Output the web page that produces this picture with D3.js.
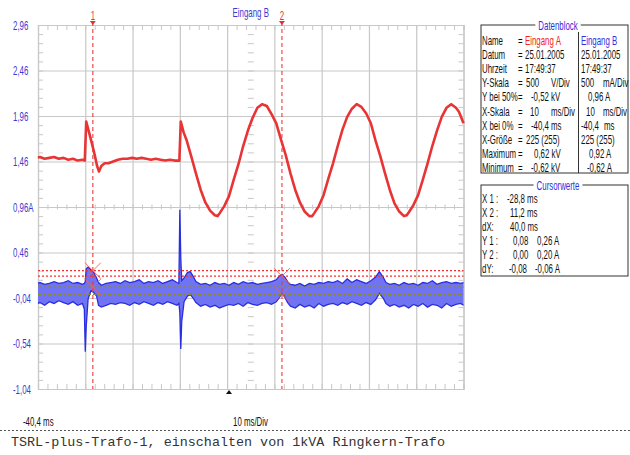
<!DOCTYPE html>
<html>
<head>
<meta charset="utf-8">
<script src="https://cdn.jsdelivr.net/npm/d3@7"></script>
<style>
  body { margin: 0; background: #fff; }
  svg { display: block; }
  .lbl { font-family: "Liberation Sans", Arial, sans-serif; font-size: 12.5px; }
</style>
</head>
<body>
<svg id="chart" width="630" height="455"></svg>
<script>
// time axis (ms) and vertical axis labels
const divTimes = [-40.4, -30.4, -20.4, -10.4, -0.4, 9.6, 19.6, 29.6, 39.6, 49.6];
const yTickValues = [2.96, 2.46, 1.96, 1.46, 0.96, 0.46, -0.04, -0.54, -1.04];
const yTickLabels = ["2,96", "2,46", "1,96", "1,46", "0,96A", "0,46", "-0,04", "-0,54", "-1,04"];

// Eingang A (kV)
const redTime = [-40.4, -40, -39, -38, -37, -36, -35, -34, -33, -32, -31, -30.5, -30.2, -29.6, -29, -28.4, -27.9, -27.5, -27, -26.3,
  -25.5, -24.5, -23.5, -22.5, -21.5, -20.5, -19.5, -18.5, -17.5, -16.5, -15.5, -14.5, -13.5, -12.5, -11.5, -10.5, -10.2, -9.6, -9, -8,
  -7, -6, -5, -4, -3, -2.4, -2, -1, 0, 1, 2, 3, 4, 5, 6, 7, 8, 9, 10, 11,
  12, 13, 14, 15, 16, 17, 17.6, 18, 19, 20, 21, 22, 23, 24, 25, 26, 27, 28, 29, 30,
  31, 32, 33, 34, 35, 36, 37, 37.6, 38, 39, 40, 41, 42, 43, 44, 45, 46, 47, 48, 48.6, 49, 49.6];
const redKV = [0.02, 0.03, 0.01, 0.02, 0.03, 0.01, 0.02, 0.00, 0.01, -0.01, 0.00, -0.01, 0.42, 0.30, 0.18, 0.05, -0.07, -0.13, -0.07, -0.04,
  -0.04, -0.02, 0.00, 0.01, 0.01, 0.02, 0.01, 0.02, 0.01, 0.00, 0.01, 0.00, -0.01, 0.00, -0.01, -0.01, 0.42, 0.30, 0.22, 0.04,
  -0.15, -0.33, -0.47, -0.56, -0.61, -0.62, -0.59, -0.51, -0.40, -0.22, -0.05, 0.15, 0.32, 0.46, 0.57, 0.61, 0.59, 0.50, 0.40, 0.22,
  0.05, -0.15, -0.33, -0.47, -0.57, -0.62, -0.62, -0.59, -0.51, -0.39, -0.21, -0.04, 0.15, 0.33, 0.47, 0.56, 0.61, 0.58, 0.51, 0.40,
  0.21, 0.04, -0.15, -0.33, -0.48, -0.57, -0.62, -0.61, -0.58, -0.50, -0.39, -0.22, -0.04, 0.15, 0.32, 0.47, 0.57, 0.61, 0.57, 0.53, 0.48, 0.40];

// Eingang B (A), max/min envelope of the blue trace
const blueTime = [-40.4, -40, -39, -38, -37, -36, -35, -34, -33, -32, -31, -30.6, -30.4, -30.2, -29.8, -29.2, -28.6, -28, -27.6, -27,
  -26, -25, -24, -23, -22, -21, -20, -19, -18, -17, -16, -15, -14, -13, -12, -11, -10.6, -10.4, -10.2, -10,
  -9.5, -8.8, -8.2, -7.6, -7, -6, -5, -4, -3, -2, -1, 0, 1, 2, 3, 4, 5, 6, 7, 8,
  9, 10, 10.6, 11.2, 11.8, 12.4, 13, 14, 15, 16, 17, 18, 19, 20, 21, 22, 23, 24, 25, 26,
  27, 28, 29, 30, 31, 31.8, 32.6, 33.2, 34, 35, 36, 37, 38, 39, 40, 41, 42, 43, 44, 45, 46, 47, 48, 49, 49.6];
const blueMax = [0.12, 0.13, 0.11, 0.12, 0.14, 0.12, 0.13, 0.15, 0.12, 0.13, 0.11, 0.12, 0.14, 0.28, 0.30, 0.27, 0.24, 0.18, 0.13, 0.10,
  0.12, 0.13, 0.14, 0.12, 0.15, 0.13, 0.14, 0.16, 0.12, 0.14, 0.13, 0.15, 0.12, 0.14, 0.16, 0.13, 0.12, 0.93, 0.40, 0.15,
  0.18, 0.24, 0.25, 0.20, 0.14, 0.11, 0.12, 0.10, 0.13, 0.11, 0.12, 0.10, 0.13, 0.11, 0.14, 0.12, 0.13, 0.11, 0.12, 0.13,
  0.14, 0.16, 0.20, 0.22, 0.19, 0.14, 0.11, 0.10, 0.12, 0.09, 0.12, 0.11, 0.13, 0.12, 0.14, 0.13, 0.15, 0.12, 0.17, 0.13,
  0.16, 0.14, 0.12, 0.15, 0.19, 0.25, 0.19, 0.13, 0.11, 0.12, 0.10, 0.13, 0.11, 0.12, 0.10, 0.13, 0.12, 0.15, 0.11, 0.13, 0.14, 0.12, 0.13, 0.12, 0.13];
const blueMin = [-0.10, -0.09, -0.12, -0.08, -0.10, -0.07, -0.09, -0.11, -0.08, -0.12, -0.10, -0.16, -0.63, -0.35, -0.05, 0.04, 0.02, -0.02, -0.12, -0.14,
  -0.12, -0.10, -0.11, -0.09, -0.10, -0.12, -0.09, -0.11, -0.08, -0.10, -0.12, -0.09, -0.11, -0.08, -0.10, -0.12, -0.10, -0.20, -0.60, -0.30,
  -0.08, -0.02, 0.00, -0.04, -0.09, -0.13, -0.11, -0.14, -0.12, -0.15, -0.13, -0.11, -0.12, -0.10, -0.13, -0.09, -0.11, -0.12, -0.10, -0.09,
  -0.11, -0.08, -0.04, 0.01, -0.03, -0.09, -0.13, -0.15, -0.11, -0.14, -0.12, -0.15, -0.10, -0.13, -0.11, -0.10, -0.12, -0.09, -0.11, -0.08,
  -0.10, -0.12, -0.09, -0.11, -0.06, 0.01, -0.04, -0.10, -0.13, -0.11, -0.14, -0.12, -0.15, -0.11, -0.13, -0.10, -0.14, -0.11, -0.12, -0.15, -0.10, -0.13, -0.11, -0.10, -0.12];

// cursors
const cursorTimes = [-28.8, 11.2];
const cursorYA = [0.08, 0.00];   // Eingang A readings, drawn in screen units
const cursorYB = [0.26, 0.20];

// Datenblock / Cursorwerte texts
const dbLabels = ["Name", "Datum", "Uhrzeit", "Y-Skala", "Y bei 50%", "X-Skala", "X bei 0%", "X-Größe", "Maximum", "Minimum"];
const dbValA = ["Eingang A", "25.01.2005", "17:49:37", "500", "-0,52 kV", "10", "-40,4", "225 (255)", "0,62 kV", "-0,62 kV"];
const dbUnitA = ["", "", "", "V/Div", "", "ms/Div", "ms", "", "", ""];
const dbValB = ["Eingang B", "25.01.2005", "17:49:37", "500", "0,96 A", "10", "-40,4", "225 (255)", "0,92 A", "-0,62 A"];
const dbUnitB = ["", "", "", "mA/Div", "", "ms/Div", "ms", "", "", ""];
const cwLabels = ["X 1 :", "X 2 :", "dX:", "Y 1 :", "Y 2 :", "dY:"];
const cwVal1 = ["-28,8 ms", "11,2 ms", "40,0 ms", "0,08", "0,00", "-0,08"];
const cwVal2 = ["", "", "", "0,26 A", "0,20 A", "-0,06 A"];

const title = "TSRL-plus-Trafo-1, einschalten von 1kVA Ringkern-Trafo";

// ---- layout
const pl = 38, pr = 463.5, pt = 25, pb = 389;
const narrow = 0.63;
const svg = d3.select("#chart");

// condensed text, the scope software uses a narrow bitmap font
function txt(parent, tx, ty, s, fill, anchor) {
  return parent.append("text").attr("class", "lbl")
    .attr("transform", `translate(${tx},${ty}) scale(${narrow},1)`)
    .attr("dy", "0.36em").attr("fill", fill || "#111")
    .attr("text-anchor", anchor || "start").text(s);
}

const x = d3.scaleLinear().domain([-40.4, 49.6]).range([pl, pr]);
const yB = d3.scaleLinear().domain([-1.04, 2.96]).range([pb, pt]);
const yA = d3.scaleLinear().domain([-2.52, 1.48]).range([pb, pt]);

const grid = svg.append("g");
const gridColor = "#c8c8c8";

// major grid
grid.append("g")
  .attr("transform", `translate(0,${pb})`)
  .call(d3.axisBottom(x).tickValues(divTimes).tickSize(-(pb - pt)).tickFormat(""))
  .call(g => g.select(".domain").remove());
grid.append("g")
  .attr("transform", `translate(${pl},0)`)
  .call(d3.axisLeft(yB).tickValues(yTickValues).tickSize(-(pr - pl)).tickFormat(""))
  .call(g => g.select(".domain").remove());
grid.selectAll("line").attr("stroke", gridColor).attr("stroke-width", 1.2);

// minor ticks
const minorX = d3.range(-40.4, 49.7, 2);
const minorY = d3.range(-1.04, 2.97, 0.1);
const mk = 5;
const minor = svg.append("g");
minor.append("g").attr("transform", `translate(0,${pt})`)
  .call(d3.axisTop(x).tickValues(minorX).tickSize(-mk).tickFormat(""));
minor.append("g").attr("transform", `translate(0,${pb})`)
  .call(d3.axisBottom(x).tickValues(minorX).tickSize(-mk).tickFormat(""));
minor.append("g").attr("transform", `translate(0,${yB(0.96) + mk / 2})`)
  .call(d3.axisBottom(x).tickValues(minorX).tickSize(-mk).tickFormat(""))
  .call(g => g.select(".domain").remove());
minor.append("g").attr("transform", `translate(${pl},0)`)
  .call(d3.axisLeft(yB).tickValues(minorY).tickSize(-mk).tickFormat(""));
minor.append("g").attr("transform", `translate(${pr},0)`)
  .call(d3.axisRight(yB).tickValues(minorY).tickSize(-mk).tickFormat(""));
minor.append("g").attr("transform", `translate(${x(4.6) - 3},0)`)
  .call(d3.axisLeft(yB).tickValues(minorY).tickSize(-6).tickFormat(""))
  .call(g => g.select(".domain").remove());
minor.selectAll(".domain").attr("stroke", gridColor).attr("stroke-width", 1.2);
minor.selectAll("line").attr("stroke", gridColor);

// y labels
const yl = svg.append("g");
yTickValues.forEach((d, i) => txt(yl, 13, yB(d), yTickLabels[i], "#3a3ad0"));

// blue envelope
const blue = blueTime.map((t, i) => ({ t, hi: blueMax[i], lo: blueMin[i] }));
svg.append("path").datum(blue)
  .attr("fill", "#7074f2")
  .attr("d", d3.area().x(d => x(d.t)).y0(d => yB(d.lo)).y1(d => yB(d.hi)));
["hi", "lo"].forEach(k => {
  svg.append("path").datum(blue)
    .attr("fill", "none").attr("stroke", "#2a2ee0").attr("stroke-width", 1.3)
    .attr("d", d3.line().x(d => x(d.t)).y(d => yB(d[k])));
});

// cursor horizontal lines
const hl = svg.append("g");
cursorYA.forEach(v => hl.append("line").attr("x1", pl).attr("x2", pr)
  .attr("y1", yB(v)).attr("y2", yB(v)).attr("stroke", "#8c8a2a").attr("stroke-width", 1.3).attr("stroke-dasharray", "3,2"));
cursorYB.forEach(v => hl.append("line").attr("x1", pl).attr("x2", pr)
  .attr("y1", yB(v)).attr("y2", yB(v)).attr("stroke", "#f03030").attr("stroke-width", 1.3).attr("stroke-dasharray", "2,2"));

// red trace
const red = redTime.map((t, i) => ({ t, v: redKV[i] }));
svg.append("path").datum(red)
  .attr("fill", "none").attr("stroke", "#e83434").attr("stroke-width", 2.6).attr("stroke-linejoin", "round")
  .attr("d", d3.line().x(d => x(d.t)).y(d => yA(d.v)));

// vertical cursors
cursorTimes.forEach((t, i) => {
  const cx = x(t);
  svg.append("line").attr("x1", cx).attr("x2", cx).attr("y1", 22).attr("y2", pb)
    .attr("stroke", "#ee3a3a").attr("stroke-width", 1.1).attr("stroke-dasharray", "4,3");
  svg.append("path").attr("d", `M${cx - 3},${pt - 4}L${cx + 3},${pt - 4}L${cx},${pt}Z`).attr("fill", "#e83030");
  txt(svg, cx, 15, i + 1, "#e83030", "middle");
  [cursorYB[i], cursorYA[i]].forEach(v => {
    const cy = yB(v), r = 8;
    svg.append("path").attr("d", `M${cx - r},${cy - r}L${cx + r},${cy + r}M${cx - r},${cy + r}L${cx + r},${cy - r}`)
      .attr("stroke", "#f06060").attr("stroke-width", 0.9).attr("fill", "none");
  });
});

// t = 0 marker
svg.append("path").attr("d", `M${x(0) - 3},${pb + 5}L${x(0) + 3},${pb + 5}L${x(0)},${pb + 1}Z`).attr("fill", "#111");

txt(svg, x(4.6), 12, "Eingang B", "#3a3ad0", "middle");
txt(svg, 23, 421, "-40,4 ms");
txt(svg, 233, 421, "10 ms/Div");

// Datenblock
const box = (y0, y1, name) => {
  svg.append("rect").attr("x", 481).attr("y", y0).attr("width", 147).attr("height", y1 - y0)
    .attr("fill", "none").attr("stroke", "#333").attr("stroke-width", 1);
  const t = txt(svg, 558, y0, name, "#2f2fe0", "middle");
  const w = t.node().getComputedTextLength() * narrow;
  svg.insert("rect", () => t.node()).attr("x", 558 - w / 2 - 3).attr("y", y0 - 3).attr("width", w + 6).attr("height", 6).attr("fill", "#fff");
};
box(25, 173, "Datenblock");
svg.append("line").attr("x1", 578.5).attr("x2", 578.5).attr("y1", 32).attr("y2", 173).attr("stroke", "#333");

const valAx = [525, 525, 525, 526, 531, 530, 531, 526, 534, 531];
const valBx = [581, 581, 581, 581, 588, 586, 581, 581, 589, 587];
const db = svg.append("g");
dbLabels.forEach((l, i) => {
  const yy = 40 + i * 14.2;
  txt(db, 482, yy, l);
  txt(db, 518, yy, "=");
  txt(db, valAx[i], yy, dbValA[i], i === 0 ? "#ee2222" : null);
  if (dbUnitA[i]) txt(db, 551, yy, dbUnitA[i]);
  txt(db, valBx[i], yy, dbValB[i], i === 0 ? "#2f2fe0" : null);
  if (dbUnitB[i]) txt(db, i === 6 ? 604 : 603, yy, dbUnitB[i]);
});

box(185, 276, "Cursorwerte");
const cw1x = [507, 510, 510, 513, 513, 509];
const cw2x = [0, 0, 0, 537, 537, 535];
const cw = svg.append("g");
cwLabels.forEach((l, i) => {
  const yy = 198.5 + i * 14;
  txt(cw, 482, yy, l);
  txt(cw, cw1x[i], yy, cwVal1[i]);
  if (cwVal2[i]) txt(cw, cw2x[i], yy, cwVal2[i]);
});

// caption
svg.append("line").attr("x1", 0).attr("x2", 630).attr("y1", 430.5).attr("y2", 430.5)
  .attr("stroke", "#555").attr("stroke-dasharray", "2,2");
svg.append("text").attr("x", 11).attr("y", 446)
  .style("font-family", "'Liberation Mono', 'Courier New', monospace").style("font-size", "13.4px")
  .attr("fill", "#333").text(title);
</script>
</body>
</html>
